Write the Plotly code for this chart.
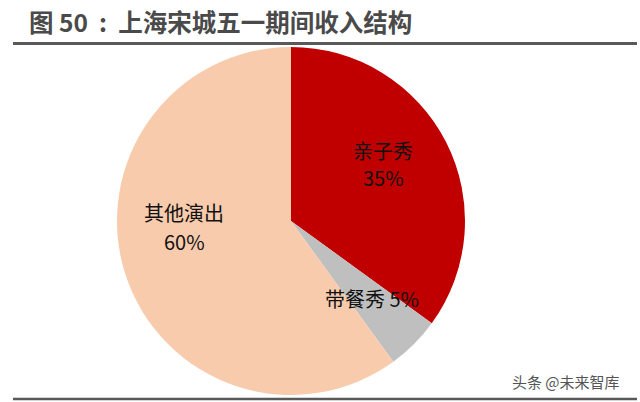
import plotly.graph_objects as go

title_text = "图 50&nbsp;&nbsp;:&nbsp;&nbsp;上海宋城五一期间收入结构"
labels = ["亲子秀", "带餐秀", "其他演出"]
values = [35, 5, 60]
colors = ["#C00000", "#BFBFBF", "#F8CBAD"]
watermark = "头条 @未来智库"

W, H = 640, 402
cx, cy, r = 291, 221, 174

fig = go.Figure()
fig.add_trace(go.Pie(
    labels=labels, values=values, sort=False, direction="clockwise", rotation=0,
    marker=dict(colors=colors, line=dict(width=0)),
    textinfo="none", hoverinfo="label+percent", showlegend=False,
    domain=dict(x=[(cx - r) / W, (cx + r) / W], y=[(H - cy - r) / H, (H - cy + r) / H]),
))

total = sum(values)
pct = [f"{round(v * 100 / total)}%" for v in values]
font = dict(family="Noto Sans CJK SC", size=20, color="#111111")


def txt(x, y, t, anchor="center", f=font):
    return dict(x=x / W, y=1 - y / H, xref="paper", yref="paper", showarrow=False,
                text=t, font=f, xanchor=anchor, yanchor="middle")


ann = [
    txt(383, 150, labels[0]), txt(383, 177, pct[0]),
    txt(372, 298, f"{labels[1]} {pct[1]}"),
    txt(184, 212, labels[2]), txt(184, 241, pct[2]),
    txt(27, 22, f"<b>{title_text}</b>", "left",
        dict(family="Noto Sans CJK SC", size=24.5, color="#4a4a4a")),
    txt(622, 381, watermark, "right",
        dict(family="Noto Sans CJK SC", size=15, color="#555555")),
]

shapes = [
    dict(type="line", xref="paper", yref="paper", x0=13 / W, x1=637 / W,
         y0=1 - 43.5 / H, y1=1 - 43.5 / H, line=dict(color="#595959", width=3)),
    dict(type="line", xref="paper", yref="paper", x0=13 / W, x1=637 / W,
         y0=1 - 399 / H, y1=1 - 399 / H, line=dict(color="#595959", width=2.5)),
]

fig.update_layout(width=W, height=H, margin=dict(l=0, r=0, t=0, b=0),
                  paper_bgcolor="white", plot_bgcolor="white",
                  annotations=ann, shapes=shapes)
fig.write_html("out.html")
